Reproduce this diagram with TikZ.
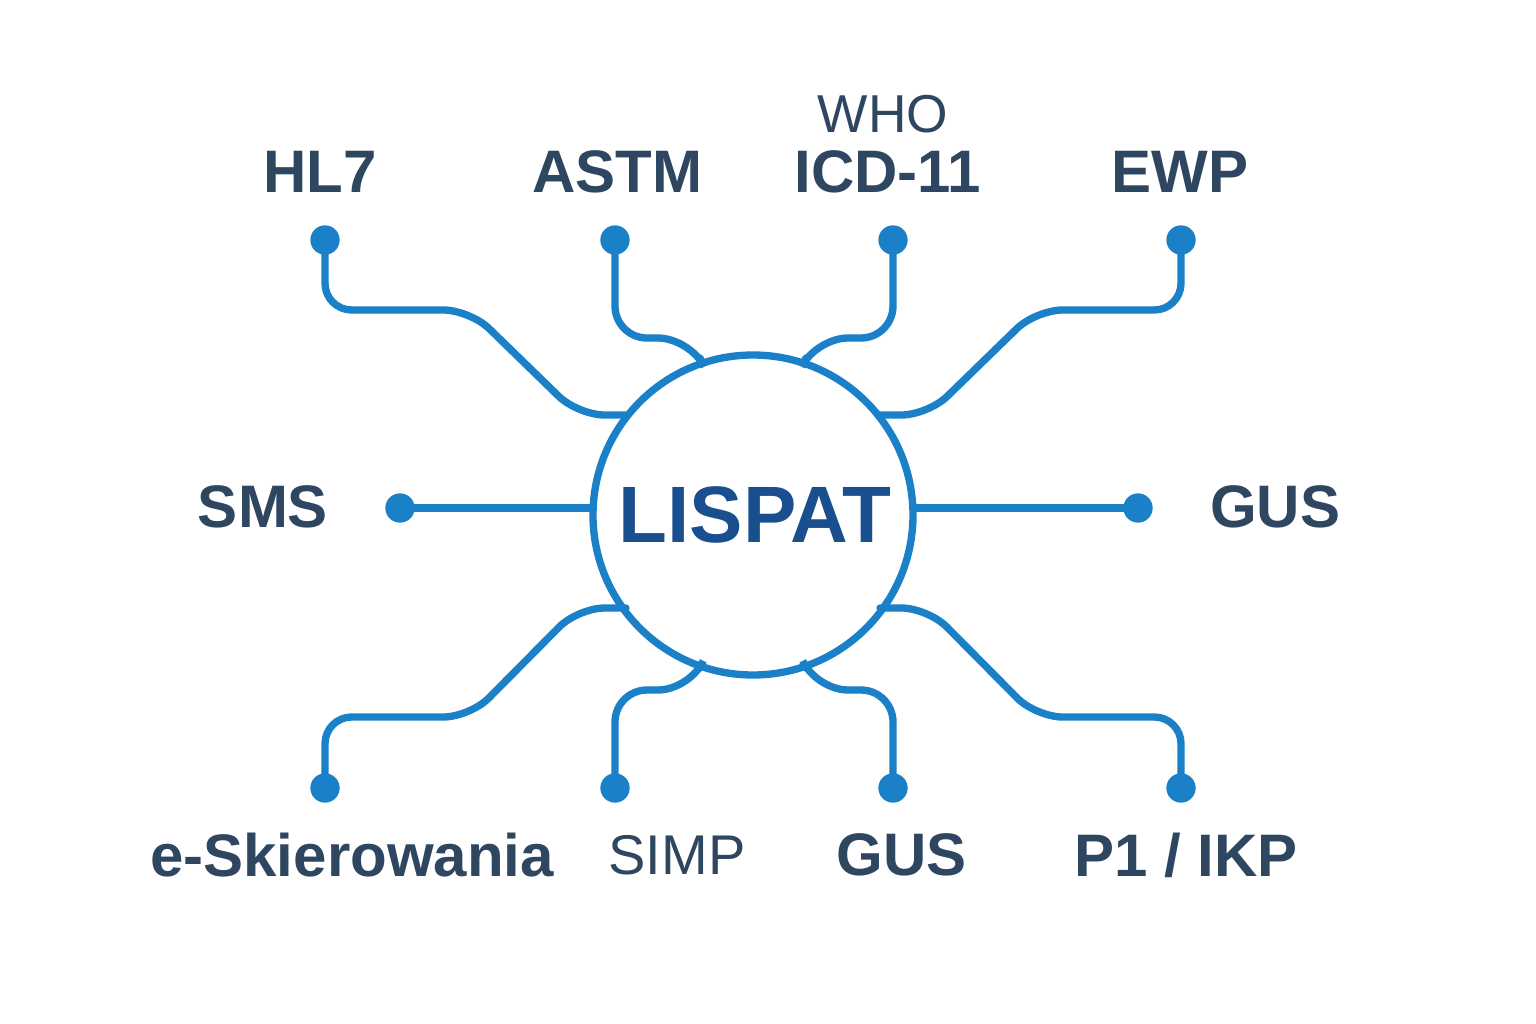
\documentclass[tikz,border=0pt]{standalone}
\usepackage{fontspec}
\setmainfont{Liberation Sans}
\begin{document}
\begin{tikzpicture}[x=0.75pt,y=-0.75pt,
  ln/.style={draw=lb,line width=5.5pt,rounded corners=20,line cap=round},
  dot/.style={circle,fill=lb,inner sep=0pt,minimum size=22pt},
  lab/.style={text=tc,font=\bfseries\fontsize{45}{45}\selectfont,inner sep=0pt}]
\definecolor{lb}{HTML}{1A80C8}
\definecolor{tc}{HTML}{2F4660}
\definecolor{lp}{HTML}{1A4F8F}
\useasboundingbox (0,0) rectangle (1536,1024);
\fill[white] (0,0) rectangle (1536,1024);
\node[circle,draw=lb,line width=5.5pt,minimum size=240pt,inner sep=0pt,fill=white] (c) at (753,515) {};
\node[text=lp,font=\bfseries\fontsize{60}{60}\selectfont] (lt) at (755,515) {LISPAT};
% dots
\node[dot] (d1) at (325,240) {};
\node[dot] (d2) at (615,240) {};
\node[dot] (d3) at (893,240) {};
\node[dot] (d4) at (1181,240) {};
\node[dot] (d5) at (400,508) {};
\node[dot] (d6) at (1138,508) {};
\node[dot] (d7) at (325,788) {};
\node[dot] (d8) at (615,788) {};
\node[dot] (d9) at (893,788) {};
\node[dot] (d10) at (1181,788) {};
\coordinate (e1) at (626,415); \coordinate (e2) at (700,358);
\coordinate (e3) at (806,358); \coordinate (e4) at (880,415);
\coordinate (e5) at (593,508); \coordinate (e6) at (913,508);
\coordinate (e7) at (626,608); \coordinate (e8) at (700,668);
\coordinate (e9) at (806,668); \coordinate (e10) at (880,608);
\draw[ln] (d1.center) -- (325,310) -- (470,310) -- (578,415) -- (e1);
\draw[ln,rounded corners=24] (d2.center) -- (615,338) -- (690,338) -- (e2);
\draw[ln,rounded corners=24] (d3.center) -- (893,338) -- (816,338) -- (e3);
\draw[ln] (d4.center) -- (1181,310) -- (1036,310) -- (928,415) -- (e4);
\draw[ln] (d5.center) -- (e5);
\draw[ln] (e6) -- (d6.center);
\draw[ln] (d7.center) -- (325,717) -- (470,717) -- (578,608) -- (e7);
\draw[ln,rounded corners=24] (d8.center) -- (615,690) -- (690,690) -- (e8);
\draw[ln,rounded corners=24] (d9.center) -- (893,690) -- (816,690) -- (e9);
\draw[ln] (d10.center) -- (1181,717) -- (1036,717) -- (928,608) -- (e10);
% labels
\node[lab] (t1) at (320,172) {HL7};
\node[lab] (t2) at (617,172) {ASTM};
\node[lab,font=\fontsize{40}{40}\selectfont] (t3a) at (883,114) {WHO};
\node[lab] (t3) at (888,172) {ICD-11};
\node[lab] (t4) at (1180,172) {EWP};
\node[lab] (t5) at (263,507) {SMS};
\node[lab] (t6) at (1275,507) {GUS};
\node[lab] (t7) at (352,855) {e-Skierowania};
\node[lab,font=\fontsize{42}{42}\selectfont] (t8) at (677,855) {SIMP};
\node[lab] (t9) at (902,855) {GUS};
\node[lab] (t10) at (1186,855) {P1 / IKP};
\end{tikzpicture}
\end{document}
